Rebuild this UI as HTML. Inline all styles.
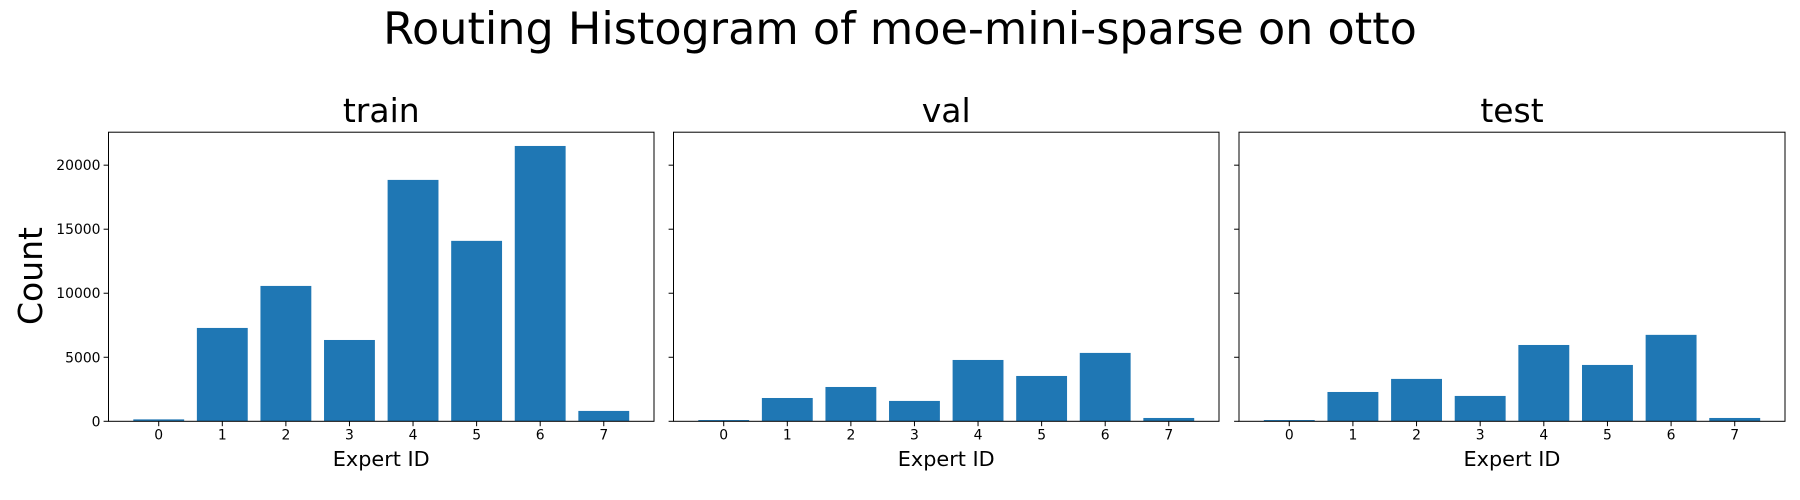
<!DOCTYPE html>
<html><head><meta charset="utf-8"><style>
body{margin:0;background:#fff;}
svg{display:block;font-family:"DejaVu Sans","Liberation Sans",sans-serif;}
</style></head><body>
<svg id="chart" width="1800" height="500" xmlns="http://www.w3.org/2000/svg">
<text x="900" y="44" font-size="44.5" text-anchor="middle">Routing Histogram of moe-mini-sparse on otto</text>
<text transform="translate(42,276) rotate(-90)" font-size="33" text-anchor="middle">Count</text>
</svg>
<script>
const categories = [0,1,2,3,4,5,6,7];
const panelNames = ["train","val","test"];
const trainValues = [150,7290,10570,6350,18850,14090,21500,810];
const valValues = [100,1820,2680,1590,4790,3540,5340,260];
const testValues = [100,2290,3310,1980,5960,4400,6750,260];
const yTicks = [0,5000,10000,15000,20000];
const yTickLabels = ["0","5000","10000","15000","20000"];

const svg = document.getElementById('chart');
const NS = 'http://www.w3.org/2000/svg';
const panels = [
  {name: panelNames[0], values: trainValues, x0: 108.5, x1: 654},
  {name: panelNames[1], values: valValues, x0: 673.5, x1: 1219},
  {name: panelNames[2], values: testValues, x0: 1239, x1: 1785}
];
const yTop = 132.2, yBot = 421.3;
const allMax = Math.max(...trainValues, ...valValues, ...testValues);
const yMax = allMax * 1.05;
const xMin = -0.79, xMax = 7.79;
function mk(tag, attrs){const e=document.createElementNS(NS,tag);for(const k in attrs)e.setAttribute(k,attrs[k]);svg.appendChild(e);return e;}
function yScale(v){return yBot - v/yMax*(yBot-yTop);}

panels.forEach((p, pi) => {
  const xs = v => p.x0 + (v - xMin)/(xMax - xMin)*(p.x1 - p.x0);
  const unit = (p.x1 - p.x0)/(xMax - xMin);
  p.values.forEach((v, i) => {
    const r = mk('rect', {x: xs(categories[i]-0.4), y: yScale(v), width: 0.8*unit, height: yBot - yScale(v), fill: '#1f77b4'});
    
    
  });
  const frame = mk('rect', {x: p.x0, y: yTop, width: p.x1-p.x0, height: yBot-yTop, fill: 'none', stroke: '#000', 'stroke-width': 1});
  
  
  const t = mk('text', {x: (p.x0+p.x1)/2, y: 122, 'font-size': 33, 'text-anchor': 'middle'});
  t.textContent = p.name;
  
  
  const xl = mk('text', {x: (p.x0+p.x1)/2, y: 466, 'font-size': 20.8, 'text-anchor': 'middle'});
  xl.textContent = 'Expert ID';
  
  
  categories.forEach(c => {
    const tk = mk('line', {x1: xs(c), x2: xs(c), y1: yBot, y2: yBot+4.9, stroke: '#000', 'stroke-width': 1});
    
    
    const tl = mk('text', {x: xs(c), y: yBot+18, 'font-size': 13.9, 'text-anchor': 'middle'});
    tl.textContent = String(c);
    
    
  });
  yTicks.forEach((v, i) => {
    const tk = mk('line', {x1: p.x0-4.9, x2: p.x0, y1: yScale(v), y2: yScale(v), stroke: '#000', 'stroke-width': 1});
    
    
    if (pi === 0) {
      const tl = mk('text', {x: p.x0-8, y: yScale(v)+5, 'font-size': 13.9, 'text-anchor': 'end'});
      tl.textContent = yTickLabels[i];
      
      
    }
  });
});
</script>
</body></html>
